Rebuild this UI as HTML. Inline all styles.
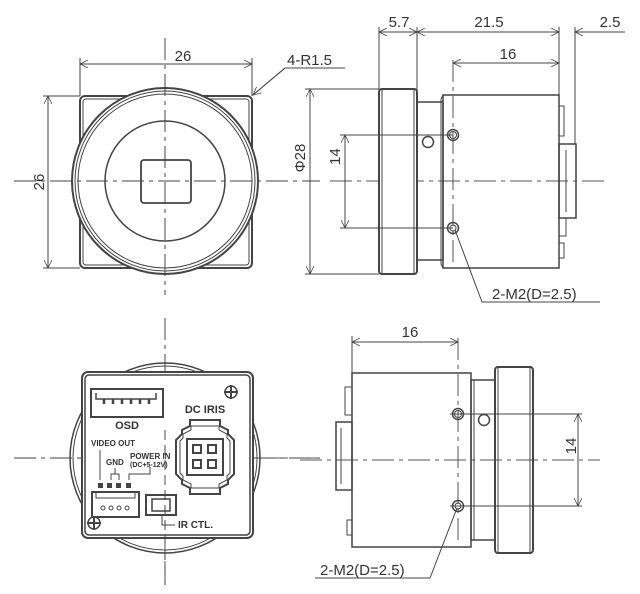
<!DOCTYPE html>
<html><head><style>body{margin:0;background:#fff}svg{display:block}text{font-family:"Liberation Sans",sans-serif;fill:#333}</style></head><body>
<svg width="640" height="594" viewBox="0 0 640 594" xmlns="http://www.w3.org/2000/svg">
<defs>
<marker id="a" viewBox="0 0 10 10" refX="10" refY="5" markerWidth="10" markerHeight="8" orient="auto-start-reverse" markerUnits="userSpaceOnUse"><path d="M0,0 L10,5 L0,10" fill="none" stroke="#444" stroke-width="1"/></marker>
</defs>
<g fill="none" stroke="#444" stroke-width="1">
<!-- center lines -->
<g stroke-dasharray="22,5,4,5" stroke="#555">
<line x1="14" y1="181" x2="320" y2="181"/><line x1="165" y1="38" x2="165" y2="295"/>
<line x1="330" y1="181" x2="605" y2="181"/>
<line x1="14" y1="458" x2="320" y2="458"/><line x1="165" y1="318" x2="165" y2="585"/>
<line x1="300" y1="460" x2="600" y2="460"/>
<line x1="453" y1="60" x2="453" y2="265"/><line x1="458" y1="338" x2="458" y2="545"/>
</g>
<!-- front view -->
<rect x="80" y="96" width="172" height="172" rx="5" stroke-width="2"/>
<rect x="83" y="99" width="166" height="166" rx="3"/>
<circle cx="165" cy="181" r="93" fill="#fff" stroke-width="2"/>
<circle cx="165" cy="181" r="90"/><circle cx="165" cy="181" r="87"/>
<circle cx="165" cy="181" r="60" stroke-width="1.5"/>
<rect x="141" y="160" width="50" height="43" rx="3" stroke-width="1.8"/>
<line x1="165" y1="38" x2="165" y2="295" stroke-dasharray="22,5,4,5"/>
<line x1="14" y1="181" x2="320" y2="181" stroke-dasharray="22,5,4,5"/>
<line x1="80" y1="58" x2="80" y2="96"/><line x1="252" y1="58" x2="252" y2="96"/>
<line x1="80" y1="64" x2="252" y2="64" marker-start="url(#a)" marker-end="url(#a)"/>
<line x1="43" y1="96" x2="80" y2="96"/><line x1="43" y1="268" x2="80" y2="268"/>
<line x1="48" y1="96" x2="48" y2="268" marker-start="url(#a)" marker-end="url(#a)"/>
<polyline points="345,68 285,68 253,95"/><line x1="285" y1="68" x2="253" y2="95" marker-end="url(#a)"/>
<line x1="305" y1="89" x2="379" y2="89"/><line x1="305" y1="274" x2="379" y2="274"/>
<line x1="310" y1="89" x2="310" y2="274" marker-start="url(#a)" marker-end="url(#a)"/>
<!-- side view top -->
<rect x="379" y="89" width="38" height="185" rx="3" stroke-width="2" fill="#fff"/>
<line x1="382" y1="89" x2="382" y2="274"/><line x1="414" y1="89" x2="414" y2="274"/>
<rect x="417" y="102" width="26" height="158" stroke-width="1.5"/>
<polyline points="443,268 441,264 441,99 443,95" />
<rect x="443" y="95" width="116" height="173" stroke-width="1.5"/>
<rect x="559" y="106" width="5" height="30"/><rect x="559" y="144" width="17" height="74" stroke-width="1.5"/>
<line x1="566" y1="150" x2="566" y2="212"/>
<rect x="559" y="218" width="7" height="18"/><rect x="559" y="243" width="5" height="15"/>
<circle cx="453" cy="135" r="5.5" stroke-width="1.5"/><circle cx="453" cy="135" r="3.5"/>
<circle cx="453" cy="228" r="5.5" stroke-width="1.5"/><circle cx="453" cy="228" r="3"/>
<circle cx="428" cy="142" r="5.5" stroke-width="1.5"/>
<line x1="379" y1="27" x2="379" y2="89"/><line x1="417" y1="27" x2="417" y2="102"/>
<line x1="559" y1="27" x2="559" y2="95"/><line x1="575" y1="27" x2="575" y2="144"/>
<line x1="379" y1="32" x2="417" y2="32" marker-start="url(#a)" marker-end="url(#a)"/>
<line x1="417" y1="32" x2="559" y2="32" marker-start="url(#a)" marker-end="url(#a)"/>
<line x1="625" y1="32" x2="575" y2="32" marker-end="url(#a)"/>
<line x1="453" y1="63" x2="559" y2="63" marker-start="url(#a)" marker-end="url(#a)"/>
<line x1="340" y1="135" x2="453" y2="135"/><line x1="340" y1="228" x2="453" y2="228"/>
<line x1="345" y1="135" x2="345" y2="228" marker-start="url(#a)" marker-end="url(#a)"/>
<polyline points="455,230 482,302 600,302"/>
<!-- rear view -->
<circle cx="165" cy="458" r="95" stroke-width="1.5"/><circle cx="165" cy="458" r="92"/>
<rect x="82" y="372" width="171" height="166" rx="6" stroke-width="2" fill="#fff"/>
<rect x="85" y="375" width="165" height="160" rx="4" stroke-width="1.5"/>
<line x1="165" y1="318" x2="165" y2="373" stroke-dasharray="22,5,4,5"/>
<line x1="165" y1="430" x2="165" y2="585" stroke-dasharray="10,5"/>
<line x1="14" y1="458" x2="82" y2="458" stroke-dasharray="22,5,4,5"/>
<line x1="253" y1="458" x2="320" y2="458" stroke-dasharray="22,5,4,5"/>
<rect x="91" y="389" width="72" height="28" stroke-width="2"/>
<polyline points="96,393 96,399 156,399 156,393" stroke-width="1.5"/>
<g stroke-width="2.5"><line x1="104" y1="399" x2="104" y2="404"/><line x1="113" y1="399" x2="113" y2="404"/><line x1="122" y1="399" x2="122" y2="404"/><line x1="131" y1="399" x2="131" y2="404"/><line x1="140" y1="399" x2="140" y2="404"/><line x1="149" y1="399" x2="149" y2="404"/></g>
<path d="M190,420 h30 v6 l8,4 v4 l6,6 v34 l-6,6 v4 l-8,4 v6 h-30 v-6 l-8,-4 v-4 l-6,-6 v-34 l6,-6 v-4 l8,-4 z" stroke-width="2" fill="#fff"/>
<path d="M191,426 h28 v4 l8,4 v4 l3,3 v32 l-3,3 v4 l-8,4 v4 h-28 v-4 l-8,-4 v-4 l-3,-3 v-32 l3,-3 v-4 l8,-4 z"/>
<rect x="187" y="439" width="36" height="36" stroke-width="2"/>
<g stroke-width="2"><rect x="193" y="445" width="8" height="8"/><rect x="208" y="445" width="8" height="8"/><rect x="193" y="460" width="8" height="8"/><rect x="208" y="460" width="8" height="8"/></g>
<circle cx="231" cy="392" r="6" stroke-width="1.5"/><line x1="224" y1="392" x2="238" y2="392" stroke-width="2"/><line x1="231" y1="385" x2="231" y2="399" stroke-width="2"/>
<circle cx="94" cy="523" r="6" stroke-width="1.5"/><line x1="87" y1="523" x2="101" y2="523" stroke-width="2"/><line x1="94" y1="516" x2="94" y2="530" stroke-width="2"/>
<line x1="100" y1="450" x2="100" y2="480"/>
<polyline points="111,480 111,474 119,474 119,480"/><line x1="115" y1="474" x2="115" y2="468"/>
<polyline points="129,480 129,474 150,474 150,467"/>
<g fill="#444" stroke="none"><rect x="98" y="483" width="5" height="5"/><rect x="107" y="483" width="5" height="5"/><rect x="116" y="483" width="5" height="5"/><rect x="126" y="483" width="5" height="5"/></g>
<rect x="92" y="492" width="47" height="25" stroke-width="2"/>
<polyline points="96,492 96,498 135,498 135,492"/>
<g><circle cx="103" cy="508" r="2"/><circle cx="111" cy="508" r="2"/><circle cx="119" cy="508" r="2"/><circle cx="127" cy="508" r="2"/></g>
<rect x="146" y="495" width="30" height="20" stroke-width="2"/>
<path d="M152,499 h18 v12 h-18 z" stroke-width="1.5"/>
<polyline points="162,515 162,525 175,525"/>
<!-- side view bottom -->
<rect x="352" y="373" width="119" height="174" stroke-width="1.5"/>
<rect x="471" y="380" width="24" height="160" stroke-width="1.5"/>
<line x1="474" y1="380" x2="474" y2="540"/>
<rect x="495" y="367" width="38" height="186" rx="3" stroke-width="2"/>
<line x1="498" y1="367" x2="498" y2="553"/><line x1="530" y1="367" x2="530" y2="553"/>
<rect x="336" y="422" width="16" height="68" stroke-width="1.5"/><line x1="341" y1="428" x2="341" y2="484"/>
<rect x="345" y="387" width="7" height="28"/><rect x="347" y="520" width="5" height="15"/>
<circle cx="458" cy="414" r="5.5" stroke-width="1.5"/><circle cx="458" cy="414" r="3.5"/>
<circle cx="458" cy="506" r="5.5" stroke-width="1.5"/><circle cx="458" cy="506" r="3"/>
<circle cx="484" cy="420" r="5.5" stroke-width="1.5"/>
<line x1="352" y1="336" x2="352" y2="373"/>
<line x1="352" y1="342" x2="458" y2="342" marker-start="url(#a)" marker-end="url(#a)"/>
<line x1="450" y1="414" x2="582" y2="414"/><line x1="450" y1="506" x2="582" y2="506"/>
<line x1="578" y1="414" x2="578" y2="506" marker-start="url(#a)" marker-end="url(#a)"/>
<polyline points="457,508 430,578 315,578"/>
</g>
<g font-size="15">
<text x="183" y="61" text-anchor="middle">26</text>
<text transform="translate(44,182) rotate(-90)" text-anchor="middle">26</text>
<text x="287" y="65">4-R1.5</text>
<text transform="translate(305,158) rotate(-90)" text-anchor="middle">Φ28</text>
<text x="399" y="27" text-anchor="middle">5.7</text>
<text x="489" y="27" text-anchor="middle">21.5</text>
<text x="610" y="27" text-anchor="middle">2.5</text>
<text x="508" y="59" text-anchor="middle">16</text>
<text transform="translate(340,165) rotate(-90)">14</text>
<text x="492" y="299">2-M2(D=2.5)</text>
<text x="410" y="337" text-anchor="middle">16</text>
<text transform="translate(576,446) rotate(-90)" text-anchor="middle">14</text>
<text x="320" y="575">2-M2(D=2.5)</text>
</g>
<g font-weight="bold" fill="#222" style="font-family:'Liberation Sans Narrow','Liberation Sans',sans-serif">
<text x="127" y="429" font-size="11" text-anchor="middle">OSD</text>
<text x="205" y="413" font-size="11" text-anchor="middle">DC IRIS</text>
<text x="91" y="446" font-size="8">VIDEO OUT</text>
<text x="106" y="465" font-size="8">GND</text>
<text x="130" y="459" font-size="8">POWER IN</text>
<text x="130" y="467" font-size="7">(DC+5-12V)</text>
<text x="178" y="528" font-size="10">IR CTL.</text>
</g>
</svg>
</body></html>
